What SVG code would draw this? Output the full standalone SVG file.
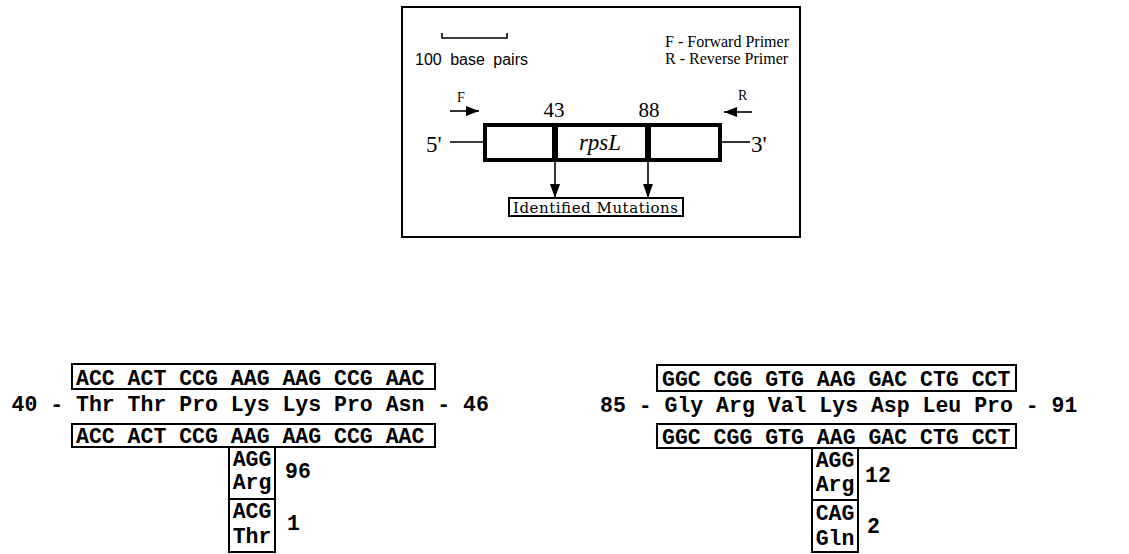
<svg xmlns="http://www.w3.org/2000/svg" width="1129" height="554" viewBox="0 0 1129 554">
<style>
.serif{font-family:"Liberation Serif","DejaVu Serif",serif;fill:#000}
.sans{font-family:"Liberation Sans","DejaVu Sans",sans-serif;fill:#000}
.mono{font-family:"Liberation Mono","DejaVu Sans Mono",monospace;font-weight:bold;font-size:21.5px;fill:#000}
.box{fill:#fff;stroke:#000;stroke-width:2}
.ln{stroke:#000;stroke-width:1.6;fill:none}
</style>
<defs>
<marker id="ah" viewBox="0 0 13 10" refX="13" refY="5" markerWidth="13" markerHeight="10" markerUnits="userSpaceOnUse" orient="auto">
<path d="M0,0 L13,5 L0,10 Z" fill="#000"/>
</marker>
<marker id="ahd" viewBox="0 0 10 14" refX="5" refY="14" markerWidth="10" markerHeight="14" markerUnits="userSpaceOnUse" orient="0">
<path d="M0,0 L10,0 L5,14 Z" fill="#000"/>
</marker>
</defs>
<rect width="1129" height="554" fill="#fff"/>

<g id="legend-frame">
<rect x="402" y="7" width="398" height="230" fill="none" stroke="#000" stroke-width="2"/>
</g>

<g id="scale-bar">
<path class="ln" d="M442,33 V38 H507 V33"/>
<text class="sans" x="415" y="65" font-size="16" word-spacing="4">100 base pairs</text>
</g>

<g id="primer-key">
<text class="serif" x="665" y="47" font-size="16">F - Forward Primer</text>
<text class="serif" x="665" y="64" font-size="16">R - Reverse Primer</text>
</g>

<g id="forward-primer">
<text class="serif" x="457" y="102" font-size="14">F</text>
</g>
<g id="reverse-primer">
<text class="serif" x="738" y="100" font-size="14">R</text>
</g>

<g id="gene-rpsL">
<rect x="485" y="125" width="235" height="35" fill="#fff" stroke="#000" stroke-width="4"/>
<rect x="552" y="123" width="6" height="39" fill="#000"/>
<rect x="645" y="123" width="6" height="39" fill="#000"/>
<text class="serif" x="600" y="150" font-size="23" font-style="italic" text-anchor="middle">rpsL</text>
<text class="serif" x="554" y="117" font-size="21" text-anchor="middle">43</text>
<text class="serif" x="649" y="117" font-size="21" text-anchor="middle">88</text>
<text class="serif" x="426" y="152" font-size="23">5'</text>
<text class="serif" x="751" y="152" font-size="23">3'</text>
</g>

<g id="identified-mutations">
<rect class="box" x="509" y="198" width="174" height="18" stroke-width="1.6"/>
<text x="513" y="212.5" font-family="'DejaVu Serif','Liberation Serif',serif" font-size="15" textLength="165" lengthAdjust="spacing">Identified Mutations</text>
</g>

<g id="connectors">
<line class="ln" x1="450" y1="142" x2="483" y2="142"/>
<line class="ln" x1="722" y1="142" x2="750" y2="142"/>
<line class="ln" x1="450" y1="111" x2="479" y2="111" stroke-width="2" marker-end="url(#ah)"/>
<line class="ln" x1="752" y1="112" x2="724" y2="112" stroke-width="2" marker-end="url(#ah)"/>
<line class="ln" x1="555" y1="162" x2="555" y2="198" marker-end="url(#ahd)"/>
<line class="ln" x1="648" y1="162" x2="648" y2="198" marker-end="url(#ahd)"/>
</g>

<g id="codons-40-46">
<rect class="box" x="72" y="364" width="363" height="25"/>
<text class="mono" x="76" y="385">ACC ACT CCG AAG AAG CCG AAC</text>
<text class="mono" x="11.5" y="411">40 - Thr Thr Pro Lys Lys Pro Asn - 46</text>
<rect class="box" x="72" y="424" width="363" height="23"/>
<text class="mono" x="76" y="443">ACC ACT CCG AAG AAG CCG AAC</text>
</g>
<g id="mut-43-arg">
<rect class="box" x="229" y="447" width="46" height="52"/>
<text class="mono" x="252" y="466" text-anchor="middle">AGG</text>
<text class="mono" x="252" y="489" text-anchor="middle">Arg</text>
<text class="mono" x="285" y="478">96</text>
</g>
<g id="mut-43-thr">
<rect class="box" x="229" y="499" width="46" height="53"/>
<text class="mono" x="252" y="518" text-anchor="middle">ACG</text>
<text class="mono" x="252" y="543" text-anchor="middle">Thr</text>
<text class="mono" x="287" y="530">1</text>
</g>

<g id="codons-85-91">
<rect class="box" x="657" y="365" width="359" height="26"/>
<text class="mono" x="662" y="386">GGC CGG GTG AAG GAC CTG CCT</text>
<text class="mono" x="600" y="412">85 - Gly Arg Val Lys Asp Leu Pro - 91</text>
<rect class="box" x="657" y="424" width="359" height="24"/>
<text class="mono" x="662" y="444">GGC CGG GTG AAG GAC CTG CCT</text>
</g>
<g id="mut-88-arg">
<rect class="box" x="812" y="448" width="46" height="52"/>
<text class="mono" x="835" y="467" text-anchor="middle">AGG</text>
<text class="mono" x="835" y="491" text-anchor="middle">Arg</text>
<text class="mono" x="865" y="482">12</text>
</g>
<g id="mut-88-gln">
<rect class="box" x="812" y="500" width="46" height="52"/>
<text class="mono" x="835" y="520" text-anchor="middle">CAG</text>
<text class="mono" x="835" y="545" text-anchor="middle">Gln</text>
<text class="mono" x="867" y="533">2</text>
</g>
</svg>
